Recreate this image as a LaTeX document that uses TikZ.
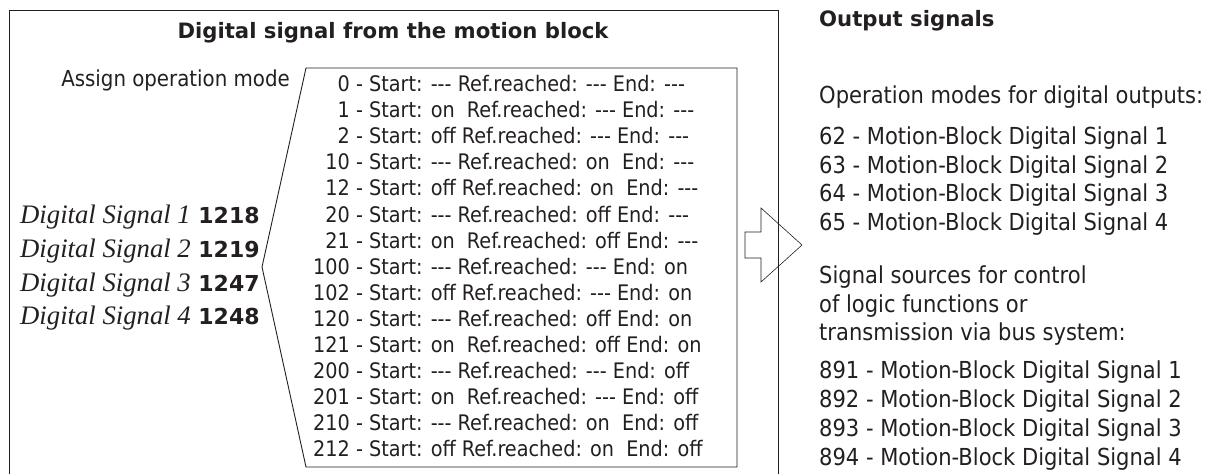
\documentclass[tikz,border=0pt]{standalone}
\usepackage{fontspec}
\setmainfont{DejaVu Sans Condensed}
\newfontfamily\headfont{DejaVu Sans}
\newfontfamily\sigfont{Liberation Serif}
\definecolor{ink}{HTML}{231F20}
\newcommand{\nd}{-\kern0pt-\kern0pt-}
\newcommand{\signo}[1]{{\headfont\bfseries\fontsize{22}{26}\selectfont #1}}
\tikzset{
  frame/.style={draw=ink, line width=0.9pt},
  txt/.style={text=ink, inner sep=0pt, font=\fontsize{21.4}{26.1}\selectfont},
  outtxt/.style={text=ink, inner sep=0pt, font=\fontsize{23.4}{28.7}\selectfont},
  head/.style={text=ink, inner sep=0pt, font=\headfont\bfseries\fontsize{21.2}{26}\selectfont},
}
\begin{document}
\begin{tikzpicture}[x=1pt, y=-1pt]
  \useasboundingbox (0,0) rectangle (1207,474);
  % outer frame, open at the bottom
  \draw[frame] (9,474) -- (9,10) -- (778,10) -- (778,474);
  \node[head] (title) at (393,33) {Digital signal from the motion block};
  % list of operation modes
  \coordinate (LT) at (306,68); \coordinate (RT) at (737,68);
  \coordinate (RB) at (737,467); \coordinate (LB) at (306,467);
  \coordinate (TIP) at (262,267);
  \draw[frame] (LT) -- (RT) -- (RB) -- (LB) -- (TIP) -- cycle;
  \node[txt, anchor=east, font=\fontsize{22}{26}\selectfont] (assign) at (290,80) {Assign operation mode};
  \node[txt, anchor=west] (modes) at (313,269) {%
    \begin{tabular}{@{}r@{ - }l@{}}
      0 & Start: \nd{} Ref.reached: \nd{} End: \nd\\
      1 & Start: on~ Ref.reached: \nd{} End: \nd\\
      2 & Start: off Ref.reached: \nd{} End: \nd\\
      10 & Start: \nd{} Ref.reached: on~ End: \nd\\
      12 & Start: off Ref.reached: on~ End: \nd\\
      20 & Start: \nd{} Ref.reached: off End: \nd\\
      21 & Start: on~ Ref.reached: off End: \nd\\
      100 & Start: \nd{} Ref.reached: \nd{} End: on\\
      102 & Start: off Ref.reached: \nd{} End: on\\
      120 & Start: \nd{} Ref.reached: off End: on\\
      121 & Start: on~ Ref.reached: off End: on\\
      200 & Start: \nd{} Ref.reached: \nd{} End: off\\
      201 & Start: on~ Ref.reached: \nd{} End: off\\
      210 & Start: \nd{} Ref.reached: on~ End: off\\
      212 & Start: off Ref.reached: on~ End: off
    \end{tabular}};
  % input signals
  \node[txt, anchor=west, align=left, font=\fontsize{26.7}{33.7}\selectfont] (signals) at (20,268) {%
    {\sigfont\itshape Digital Signal 1} \signo{1218}\\
    {\sigfont\itshape Digital Signal 2} \signo{1219}\\
    {\sigfont\itshape Digital Signal 3} \signo{1247}\\
    {\sigfont\itshape Digital Signal 4} \signo{1248}};
  % hollow arrow
  \coordinate (A1) at (745,232); \coordinate (A2) at (761,232);
  \coordinate (A3) at (761,208); \coordinate (A4) at (802,245);
  \coordinate (A5) at (761,282); \coordinate (A6) at (761,258);
  \coordinate (A7) at (745,258);
  \draw[draw=ink, line width=0.6pt] (A1) -- (A2) -- (A3) -- (A4) -- (A5) -- (A6) -- (A7) -- cycle;
  % output signals
  \node[head, anchor=west] (output) at (819,21) {Output signals};
  \node[outtxt, anchor=west] (opmodes) at (819,97) {Operation modes for digital outputs:};
  \node[outtxt, anchor=west, align=left] (outlist) at (819,181) {%
    62 - Motion-Block Digital Signal 1\\
    63 - Motion-Block Digital Signal 2\\
    64 - Motion-Block Digital Signal 3\\
    65 - Motion-Block Digital Signal 4};
  \node[outtxt, anchor=west, align=left, font=\fontsize{23.4}{28.5}\selectfont] (sources) at (819,306) {%
    Signal sources for control\\
    of logic functions or\\
    transmission via bus system:};
  \node[outtxt, anchor=west, align=left, font=\fontsize{23.4}{29}\selectfont] (buslist) at (819,416) {%
    891 - Motion-Block Digital Signal 1\\
    892 - Motion-Block Digital Signal 2\\
    893 - Motion-Block Digital Signal 3\\
    894 - Motion-Block Digital Signal 4};
\end{tikzpicture}
\end{document}
